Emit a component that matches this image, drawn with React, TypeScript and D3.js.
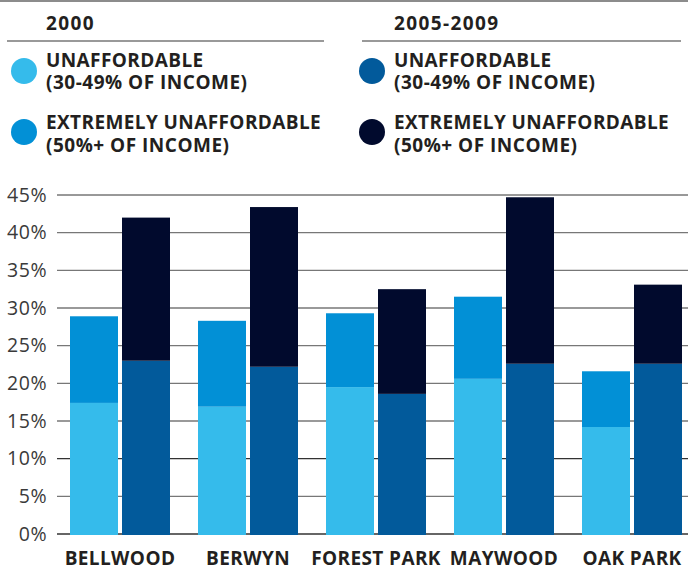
import React from "react";
import * as d3 from "d3";

const categories = ["BELLWOOD", "BERWYN", "FOREST PARK", "MAYWOOD", "OAK PARK"];
const years = ["2000", "2005-2009"];
const unaff2000 = [17.4, 16.9, 19.5, 20.6, 14.2];
const extreme2000 = [11.5, 11.4, 9.8, 10.9, 7.4];
const unaff2009 = [23.0, 22.2, 18.6, 22.6, 22.6];
const extreme2009 = [19.0, 21.2, 13.9, 22.1, 10.5];
const yTicks = [0, 5, 10, 15, 20, 25, 30, 35, 40, 45];
const legendLabels = [
  ["UNAFFORDABLE", "(30-49% OF INCOME)"],
  ["EXTREMELY UNAFFORDABLE", "(50%+ OF INCOME)"],
];
const colors2000 = ["#35bbeb", "#0290d6"];
const colors2009 = ["#025a9b", "#010a2d"];

const W = 688;
const H = 569;
const FONT = "'Open Sans', sans-serif";

export default function App() {
  const y = d3.scaleLinear().domain([0, 45]).range([534, 195]);
  const x = d3
    .scaleBand<string>()
    .domain(categories)
    .range([56, 696])
    .paddingInner(0.21875)
    .paddingOuter(0.109375);
  const xi = d3
    .scaleBand<string>()
    .domain(years)
    .range([0, x.bandwidth()])
    .paddingInner(0.0769);

  const series = [
    { year: years[0], lower: unaff2000, upper: extreme2000, colors: colors2000 },
    { year: years[1], lower: unaff2009, upper: extreme2009, colors: colors2009 },
  ];

  const legendCols = [
    { title: years[0], lineX1: 7, lineX2: 324, textX: 46, circleX: 24, colors: colors2000 },
    { title: years[1], lineX1: 362, lineX2: 681, textX: 394, circleX: 372, colors: colors2009 },
  ];

  return (
    <svg
      width={W}
      height={H}
      style={{ position: "absolute", left: 0, top: 0, background: "#fff" }}
      fontFamily={FONT}
    >
      <style>{`body{margin:0}`}</style>
      <line x1={0} x2={W} y1={1} y2={1} stroke="#666" strokeWidth={1.5} />
      {legendCols.map((c) => (
        <g key={c.title}>
          <text x={c.textX} y={30} fontSize={19} fontWeight={700} letterSpacing={1.4} fill="#231f20">
            {c.title}
          </text>
          <line x1={c.lineX1} x2={c.lineX2} y1={41} y2={41} stroke="#777" strokeWidth={1.3} />
          {legendLabels.map((lab, i) => (
            <g key={i}>
              <circle cx={c.circleX} cy={71 + i * 61} r={13} fill={c.colors[i]} />
              <text x={c.textX} y={67 + i * 62} fontSize={19} fontWeight={700} letterSpacing={0.4} fill="#231f20">
                {lab[0]}
              </text>
              <text x={c.textX} y={89 + i * 63} fontSize={19} fontWeight={700} letterSpacing={0.5} fill="#231f20">
                {lab[1]}
              </text>
            </g>
          ))}
        </g>
      ))}
      {yTicks.map((t) => (
        <g key={t}>
          <line
            x1={57}
            x2={W}
            y1={y(t)}
            y2={y(t)}
            stroke={t === 45 || t === 10 || t === 0 ? "#333" : "#777"}
            strokeWidth={t === 45 ? 1 : 1.4}
          />
          <text
            x={47}
            y={y(t) + 6.8}
            textAnchor="end"
            fontSize={19.5}
            letterSpacing={0.5}
            fill="#3a3a3a"
          >
            {t}%
          </text>
        </g>
      ))}
      {categories.map((cat, ci) => (
        <g key={cat} transform={`translate(${x(cat)},0)`}>
          {series.map((s) => {
            const bx = xi(s.year)!;
            const bw = xi.bandwidth();
            const lo = s.lower[ci];
            const hi = lo + s.upper[ci];
            return (
              <g key={s.year}>
                <rect x={bx} y={y(lo)} width={bw} height={y(0) - y(lo) + 1} fill={s.colors[0]} />
                <rect x={bx} y={y(hi)} width={bw} height={y(lo) - y(hi)} fill={s.colors[1]} />
              </g>
            );
          })}
          <text
            x={x.bandwidth() / 2}
            y={565}
            textAnchor="middle"
            fontSize={19}
            fontWeight={700}
            letterSpacing={0.4}
            fill="#231f20"
          >
            {cat}
          </text>
        </g>
      ))}
    </svg>
  );
}
